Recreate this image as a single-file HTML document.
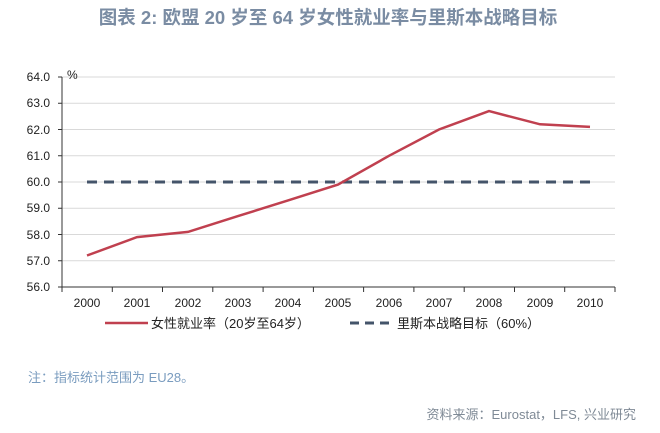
<!DOCTYPE html>
<html><head><meta charset="utf-8"><style>
body{margin:0;background:#fff;width:660px;height:428px;overflow:hidden;font-family:"Liberation Sans","Noto Sans CJK SC",sans-serif}
</style></head><body>
<svg width="660" height="428" xmlns="http://www.w3.org/2000/svg" font-family="Liberation Sans, Noto Sans CJK SC, sans-serif">
<text x="328" y="24" text-anchor="middle" font-size="18.5" font-weight="bold" fill="#7a8ca3">图表 2: 欧盟 20 岁至 64 岁女性就业率与里斯本战略目标</text>
<g stroke="#d9d9d9" stroke-width="1">
<line x1="62" x2="615" y1="77" y2="77"/><line x1="62" x2="615" y1="103.25" y2="103.25"/><line x1="62" x2="615" y1="129.5" y2="129.5"/><line x1="62" x2="615" y1="155.75" y2="155.75"/><line x1="62" x2="615" y1="182" y2="182"/><line x1="62" x2="615" y1="208.25" y2="208.25"/><line x1="62" x2="615" y1="234.5" y2="234.5"/><line x1="62" x2="615" y1="260.75" y2="260.75"/>
</g>
<g stroke="#333" stroke-width="1">
<line x1="62" x2="62" y1="77" y2="287"/><line x1="62" x2="615" y1="287" y2="287"/>
<line x1="58" x2="62" y1="77" y2="77"/><line x1="58" x2="62" y1="103.25" y2="103.25"/><line x1="58" x2="62" y1="129.5" y2="129.5"/><line x1="58" x2="62" y1="155.75" y2="155.75"/><line x1="58" x2="62" y1="182" y2="182"/><line x1="58" x2="62" y1="208.25" y2="208.25"/><line x1="58" x2="62" y1="234.5" y2="234.5"/><line x1="58" x2="62" y1="260.75" y2="260.75"/><line x1="58" x2="62" y1="287" y2="287"/>
<line x1="62" x2="62" y1="287" y2="292"/><line x1="112.3" x2="112.3" y1="287" y2="292"/><line x1="162.5" x2="162.5" y1="287" y2="292"/><line x1="212.8" x2="212.8" y1="287" y2="292"/><line x1="263.1" x2="263.1" y1="287" y2="292"/><line x1="313.4" x2="313.4" y1="287" y2="292"/><line x1="363.6" x2="363.6" y1="287" y2="292"/><line x1="413.9" x2="413.9" y1="287" y2="292"/><line x1="464.2" x2="464.2" y1="287" y2="292"/><line x1="514.5" x2="514.5" y1="287" y2="292"/><line x1="564.7" x2="564.7" y1="287" y2="292"/><line x1="615" x2="615" y1="287" y2="292"/>
</g>
<g font-size="12" fill="#222" text-anchor="end">
<text x="50" y="81">64.0</text><text x="50" y="107">63.0</text><text x="50" y="134">62.0</text><text x="50" y="160">61.0</text><text x="50" y="186">60.0</text><text x="50" y="212">59.0</text><text x="50" y="239">58.0</text><text x="50" y="265">57.0</text><text x="50" y="291">56.0</text>
</g>
<text x="67" y="79" font-size="12" fill="#222">%</text>
<g font-size="12" fill="#222" text-anchor="middle">
<text x="87" y="307">2000</text><text x="137" y="307">2001</text><text x="188" y="307">2002</text><text x="238" y="307">2003</text><text x="288" y="307">2004</text><text x="338" y="307">2005</text><text x="389" y="307">2006</text><text x="439" y="307">2007</text><text x="489" y="307">2008</text><text x="540" y="307">2009</text><text x="590" y="307">2010</text>
</g>
<line x1="87" x2="590" y1="182" y2="182" stroke="#44546a" stroke-width="3" stroke-dasharray="10,7"/>
<polyline fill="none" stroke="#c0404f" stroke-width="2.5" points="87,255.5 137,237.1 188,231.9 238,216.1 288,200.4 338,184.6 389,155.8 439,129.5 489,111.1 540,124.3 590,126.9"/>
<line x1="105" x2="148" y1="323" y2="323" stroke="#c0404f" stroke-width="2.5"/>
<text x="151" y="328" font-size="13" fill="#222">女性就业率（20岁至64岁）</text>
<line x1="350" x2="395" y1="323" y2="323" stroke="#44546a" stroke-width="3" stroke-dasharray="9,6"/>
<text x="397" y="328" font-size="13" fill="#222">里斯本战略目标（60%）</text>
<text x="28" y="382" font-size="13" fill="#7a9cbf">注：指标统计范围为 EU28。</text>
<text x="636" y="419" font-size="13" fill="#7f8a96" text-anchor="end">资料来源：Eurostat，LFS, 兴业研究</text>
</svg>
</body></html>
